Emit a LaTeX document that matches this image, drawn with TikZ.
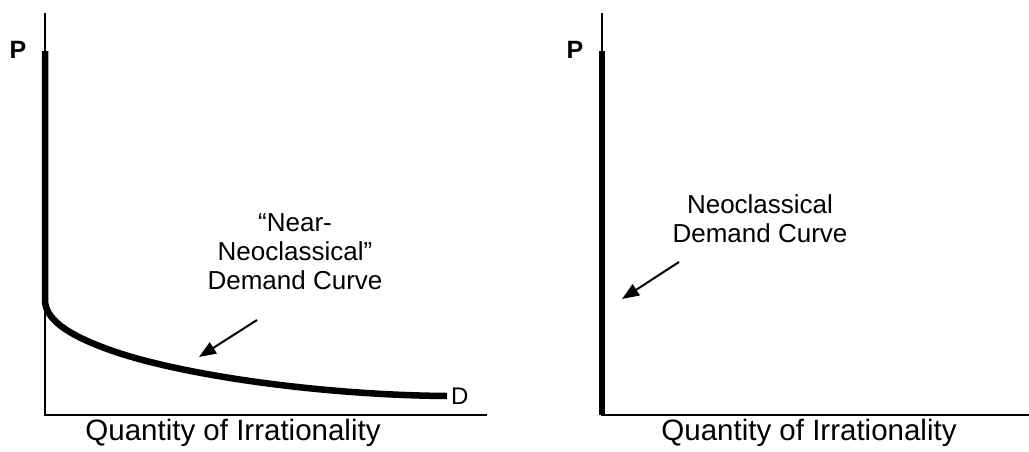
\documentclass[tikz,border=0pt]{standalone}
\usepackage{fontspec}
\setmainfont{Liberation Sans}
\usetikzlibrary{arrows.meta}
\begin{document}
\begin{tikzpicture}[x=1pt,y=-1pt,
  axis/.style={line width=2.3pt},
  demand/.style={line width=6.5pt},
  pointer/.style={line width=2pt,-{Triangle[length=17pt,width=13pt]}},
  lbl/.style={align=center,font=\fontsize{26}{29}\selectfont,inner sep=0pt},
  qlbl/.style={font=\fontsize{29.5}{32}\selectfont,inner sep=0pt},
  plbl/.style={font=\fontsize{25}{28}\selectfont\bfseries,inner sep=0pt}]
\useasboundingbox (0,0) rectangle (1029,451);
% left panel
\coordinate (LT) at (45,13);
\coordinate (LO) at (45,415);
\coordinate (LR) at (487,415);
\draw[axis] (LT) -- (LO) -- (LR);
\coordinate (DTop) at (45,51);
\coordinate (DEnd) at (447,396);
\draw[demand] (DTop) -- (45,300) .. controls (45,318) and (65,334) .. (110,350)
  .. controls (180,375) and (320,395) .. (DEnd);
\node[plbl] (P1) at (18,50) {P};
\node[font=\fontsize{24}{28}\selectfont,inner sep=0pt,anchor=west] (D) at (451,396) {D};
\node[lbl] (L1) at (295,252) {“Near-\\Neoclassical”\\Demand Curve};
\coordinate (A1s) at (257,320);
\coordinate (A1e) at (199,357);
\draw[pointer] (A1s) -- (A1e);
\node[qlbl] (Q1) at (233,433) {Quantity of Irrationality};
% right panel
\coordinate (RT) at (602,13);
\coordinate (RO) at (602,415);
\coordinate (RR) at (1029,415);
\draw[axis] (RT) -- (RO) -- (RR);
\draw[demand] (602,51) -- (602,415);
\node[plbl] (P2) at (575,50) {P};
\node[lbl] (L2) at (760,219) {Neoclassical\\Demand Curve};
\coordinate (A2s) at (679,262);
\coordinate (A2e) at (622,299);
\draw[pointer] (A2s) -- (A2e);
\node[qlbl] (Q2) at (809,433) {Quantity of Irrationality};
\end{tikzpicture}
\end{document}
